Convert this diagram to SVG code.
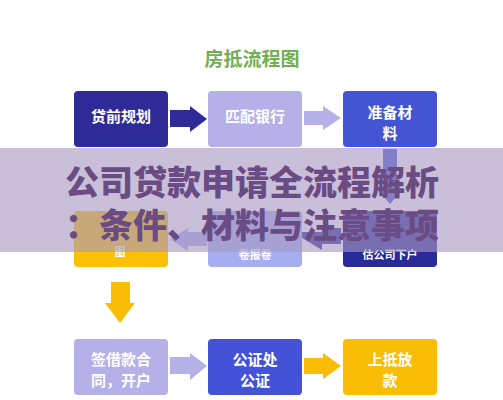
<svg xmlns="http://www.w3.org/2000/svg" width="503" height="400" viewBox="0 0 503 400">
<style>
.t{font-family:"Noto Sans CJK SC","Noto Sans",sans-serif;font-weight:bold;fill:#fff;text-anchor:middle}
.b{font-size:15px}
.s{font-size:11px}
.title{font-family:"Noto Sans CJK SC",sans-serif;font-weight:bold;font-size:19px;fill:#74ae52;text-anchor:middle}
.big{font-family:"Noto Sans CJK SC",sans-serif;font-weight:900;font-size:34px;fill:#6a4b83;text-anchor:middle}
</style>
<rect width="503" height="400" fill="#fff"/>
<text class="title" x="252" y="66">房抵流程图</text>
<g id="connectors">
<polygon points="170,110 190,110 190,106 207,119 190,132 190,127 170,127" fill="#2e2a98"/>
<polygon points="304,111 323,111 323,106 341,118 323,130 323,125 304,125" fill="#b6b0e8"/>
<polygon points="383,149 397,149 397,188 404,188 390,204 376,188 383,188" fill="#4455d4"/>
<polygon points="302,232 322,232 322,228 341,228 341,244 322,244 322,250 302,238" fill="#2b2a9a" transform="translate(0,0)"/>
<polygon points="170,239 188,228 188,232 207,232 207,246 188,246 188,251" fill="#a7aef0"/>
<polygon points="111,282 130,282 130,303 135,303 120,323 105,303 111,303" fill="#f9bd05"/>
<polygon points="170,357 190,357 190,353 207,366 190,380 190,374 170,374" fill="#b6b0e8"/>
<polygon points="304,358 323,358 323,353 341,366 323,379 323,374 304,374" fill="#f9bd05"/>
</g>
<g id="n1"><rect x="74" y="91" width="94" height="56" rx="4" fill="#2e2a98"/><text class="t b" x="121" y="122">贷前规划</text></g>
<g id="n2"><rect x="208" y="91" width="94" height="56" rx="4" fill="#b6b0e8"/><text class="t b" x="255" y="122">匹配银行</text></g>
<g id="n3"><rect x="343" y="91" width="94" height="56" rx="4" fill="#4455d4"/><text class="t b" x="390" y="118">准备材</text><text class="t b" x="390" y="139">料</text></g>
<g id="n4"><rect x="74" y="211" width="94" height="56" rx="4" fill="#fbbf05"/><text class="t s" x="120" y="256">图</text></g>
<g id="n5"><rect x="208" y="211" width="94" height="56" rx="4" fill="#a7aef0"/><text class="t s" x="255" y="259">卷报卷</text></g>
<g id="n6"><rect x="343" y="211" width="94" height="56" rx="4" fill="#2b2a9a"/><text class="t s" x="390" y="259">估公司下户</text></g>
<g id="n7"><rect x="74" y="339" width="94" height="56" rx="4" fill="#b6b0e8"/><text class="t b" x="121" y="365">签借款合</text><text class="t b" x="121" y="386">同，开户</text></g>
<g id="n8"><rect x="208" y="339" width="94" height="56" rx="4" fill="#4352d6"/><text class="t b" x="255" y="365">公证处</text><text class="t b" x="255" y="386">公证</text></g>
<g id="n9"><rect x="343" y="339" width="94" height="56" rx="4" fill="#f9bd05"/><text class="t b" x="390" y="365">上抵放</text><text class="t b" x="390" y="386">款</text></g>
<rect x="0" y="148" width="503" height="104" fill="#a898c2" fill-opacity="0.62"/>
<text class="big" x="252" y="195">公司贷款申请全流程解析</text>
<text class="big" x="252" y="238">：条件、材料与注意事项</text>
</svg>
